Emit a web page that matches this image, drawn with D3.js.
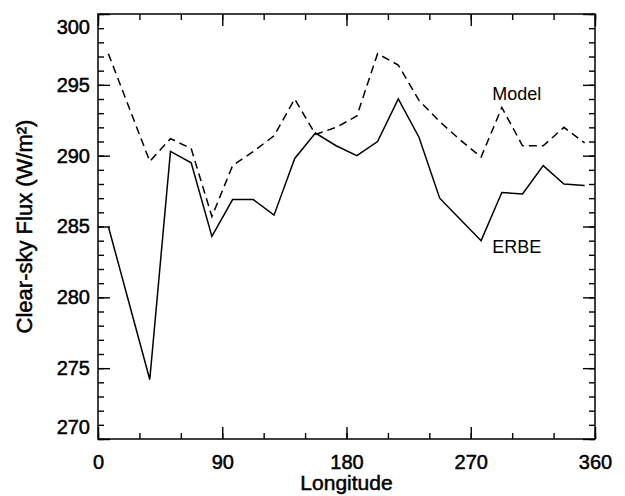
<!DOCTYPE html>
<html>
<head>
<meta charset="utf-8">
<script src="https://cdn.jsdelivr.net/npm/d3@7"></script>
<style>
    body { margin: 0; background: #fff; }
    svg { font-family: "Liberation Sans", Arial, Helvetica, sans-serif; }
    .heavy { stroke: #000; stroke-width: 0.5px; }
</style>
</head>
<body>
<div id="chart"></div>
<script>
// longitude bin centres (15 degree bins)
const longitudes = [7.5, 22.5, 37.5, 52.5, 67.5, 82.5, 97.5, 112.5, 127.5, 142.5, 157.5, 172.5,
    187.5, 202.5, 217.5, 232.5, 247.5, 262.5, 277.5, 292.5, 307.5, 322.5, 337.5, 352.5];
const erbeFlux = [285.0, 279.6, 274.2, 290.3, 289.5, 284.3, 286.9, 286.9, 285.8, 289.8, 291.6, 290.7,
    290.0, 291.0, 294.0, 291.3, 287.0, 285.5, 284.0, 287.4, 287.3, 289.3, 288.0, 287.9];
const modelFlux = [297.2, 293.4, 289.6, 291.2, 290.5, 285.7, 289.3, 290.3, 291.4, 294.0, 291.5, 292.0,
    292.8, 297.2, 296.4, 293.9, 292.4, 291.1, 289.9, 293.4, 290.7, 290.7, 292.0, 290.9];
const xTicks = [0, 90, 180, 270, 360];
const xMinorTicks = d3.range(0, 361, 30);
const yTicks = [270, 275, 280, 285, 290, 295, 300];
const yMinorTicks = d3.range(270, 301, 1);

const totalWidth = 625, totalHeight = 496;
const margin = { top: 14, right: 30, bottom: 57, left: 98 };
const width = totalWidth - margin.left - margin.right;
const height = totalHeight - margin.top - margin.bottom;

const svg = d3.select("#chart")
    .append("svg")
    .attr("width", totalWidth)
    .attr("height", totalHeight);

const g = svg.append("g")
    .attr("transform", "translate(" + margin.left + "," + margin.top + ")");

const xScale = d3.scaleLinear().domain([0, 360]).range([0, width]);
const yScale = d3.scaleLinear().domain([270, 300]).range([height, 0]);

function styleAxis(sel) {
    sel.select(".domain").remove();
    sel.selectAll(".tick line").attr("stroke", "#000").attr("stroke-width", 1.4);
    sel.selectAll(".tick text").attr("fill", "#000").attr("class", "heavy").style("font-size", "20px");
}

// minor ticks on all four sides
g.append("g").attr("transform", "translate(0," + height + ")")
    .call(d3.axisBottom(xScale).tickValues(xMinorTicks).tickSize(-6).tickFormat(""))
    .call(styleAxis);
g.append("g")
    .call(d3.axisTop(xScale).tickValues(xMinorTicks).tickSize(-6).tickFormat(""))
    .call(styleAxis);
g.append("g")
    .call(d3.axisLeft(yScale).tickValues(yMinorTicks).tickSize(-6).tickFormat(""))
    .call(styleAxis);
g.append("g").attr("transform", "translate(" + width + ",0)")
    .call(d3.axisRight(yScale).tickValues(yMinorTicks).tickSize(-6).tickFormat(""))
    .call(styleAxis);

// major ticks
g.append("g").attr("class", "x-axis")
    .attr("transform", "translate(0," + height + ")")
    .call(d3.axisBottom(xScale).tickValues(xTicks).tickSize(-12).tickPadding(16))
    .call(styleAxis);
g.append("g")
    .call(d3.axisTop(xScale).tickValues(xTicks).tickSize(-12).tickFormat(""))
    .call(styleAxis);
const yAxisG = g.append("g").attr("class", "y-axis")
    .call(d3.axisLeft(yScale).tickValues(yTicks).tickSize(-12).tickPadding(8))
    .call(styleAxis);
g.append("g").attr("transform", "translate(" + width + ",0)")
    .call(d3.axisRight(yScale).tickValues(yTicks).tickSize(-12).tickFormat(""))
    .call(styleAxis);

// end labels sit inside the axis range
yAxisG.selectAll(".tick text")
    .filter(d => d === 300).attr("dy", "0.95em");
yAxisG.selectAll(".tick text")
    .filter(d => d === 270).attr("dy", "-0.3em");

// frame
g.append("rect")
    .attr("width", width)
    .attr("height", height)
    .attr("fill", "none")
    .attr("stroke", "#000")
    .attr("stroke-width", 1.5);

const line = d3.line()
    .x((d, i) => xScale(longitudes[i]))
    .y(d => yScale(d));

g.append("path")
    .datum(modelFlux)
    .attr("fill", "none")
    .attr("stroke", "#000")
    .attr("stroke-width", 1.5)
    .attr("stroke-dasharray", "8,5")
    .attr("d", line);

g.append("path")
    .datum(erbeFlux)
    .attr("fill", "none")
    .attr("stroke", "#000")
    .attr("stroke-width", 1.5)
    .attr("d", line);

// series labels
g.append("text")
    .attr("x", xScale(285.5))
    .attr("y", yScale(293.9))
    .style("font-size", "18px")
    .text("Model");

g.append("text")
    .attr("x", xScale(285.5))
    .attr("y", yScale(283.1))
    .style("font-size", "18px")
    .text("ERBE");

// x-axis label
g.append("text")
    .attr("class", "heavy")
    .attr("x", width / 2)
    .attr("y", height + 51)
    .attr("text-anchor", "middle")
    .style("font-size", "21px")
    .text("Longitude");

// y-axis label
g.append("text")
    .attr("class", "heavy")
    .attr("transform", "rotate(-90)")
    .attr("x", -height / 2)
    .attr("y", -margin.left + 32)
    .attr("text-anchor", "middle")
    .style("font-size", "22px")
    .text("Clear-sky Flux (W/m²)");
</script>
</body>
</html>
